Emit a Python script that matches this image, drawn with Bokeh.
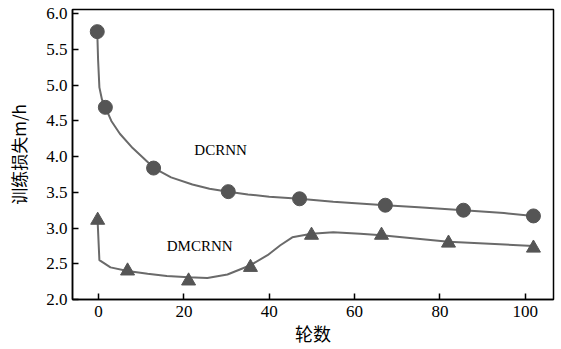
from bokeh.plotting import figure
from bokeh.models import FixedTicker, Range1d, Label
from bokeh.embed import file_html
from bokeh.resources import INLINE

# Marker values (epoch, training loss)
dcrnn_x = [-0.3, 1.6, 12.9, 30.4, 47.1, 67.2, 85.5, 101.9]
dcrnn_y = [5.75, 4.69, 3.84, 3.51, 3.41, 3.32, 3.25, 3.17]
dmcrnn_x = [-0.2, 6.8, 21.1, 35.6, 49.9, 66.3, 82.0, 101.9]
dmcrnn_y = [3.11, 2.40, 2.26, 2.45, 2.90, 2.90, 2.79, 2.72]

# Smooth fitted curves
dcrnn_curve_x = [-0.3, -0.1, 0.2, 0.8, 1.6, 3.0, 5.0, 8.0, 10.5, 13.0, 17.0, 22.0, 26.0,
                 30.4, 35.0, 40.0, 47.1, 55.0, 67.2, 75.0, 85.5, 95.0, 101.9]
dcrnn_curve_y = [5.75, 5.35, 4.97, 4.80, 4.69, 4.50, 4.32, 4.12, 3.98, 3.84, 3.71, 3.61, 3.55,
                 3.51, 3.47, 3.44, 3.41, 3.37, 3.32, 3.29, 3.25, 3.21, 3.17]
dmcrnn_curve_x = [-0.2, 0.2, 2.8, 6.8, 11.5, 16.0, 21.1, 25.5, 30.2, 35.6, 39.6, 42.6, 45.4,
                  49.9, 55.0, 61.3, 66.3, 82.0, 101.9]
dmcrnn_curve_y = [3.08, 2.55, 2.45, 2.40, 2.36, 2.33, 2.31, 2.30, 2.35, 2.48, 2.62, 2.76, 2.87,
                  2.92, 2.94, 2.92, 2.90, 2.81, 2.75]

x_ticks = [0, 20, 40, 60, 80, 100]
y_ticks = [2.0, 2.5, 3.0, 3.5, 4.0, 4.5, 5.0, 5.5, 6.0]

p = figure(width=561, height=349, output_backend="svg", toolbar_location=None,
           x_range=Range1d(-6.1, 106.6), y_range=Range1d(2.0, 6.06),
           min_border_left=72, min_border_right=8, min_border_top=9, min_border_bottom=50)
p.background_fill_color = "white"
p.border_fill_color = "white"
p.outline_line_color = "black"
p.outline_line_width = 1.5
p.xgrid.visible = False
p.ygrid.visible = False

serif = "Liberation Serif"
for ax in (p.xaxis[0], p.yaxis[0]):
    ax.major_tick_in = 6
    ax.major_tick_out = 0
    ax.minor_tick_line_color = None
    ax.axis_line_color = "black"
    ax.axis_line_width = 1.5
    ax.major_tick_line_color = "black"
    ax.major_tick_line_width = 1.5
    ax.major_label_text_font = serif
    ax.major_label_text_font_size = "17px"
    ax.major_label_text_color = "black"
    ax.axis_label_text_font = "Noto Sans CJK SC"
    ax.axis_label_text_font_style = "normal"
    ax.axis_label_text_color = "black"

p.xaxis[0].ticker = FixedTicker(ticks=x_ticks)
p.yaxis[0].ticker = FixedTicker(ticks=y_ticks)
p.yaxis[0].major_label_overrides = {t: f"{t:.1f}" for t in y_ticks}
p.xaxis[0].axis_label = "轮数"
p.yaxis[0].axis_label = "训练损失m/h"
p.xaxis[0].axis_label_text_font_size = "18px"
p.yaxis[0].axis_label_text_font_size = "17px"
p.xaxis[0].major_label_standoff = 6
p.yaxis[0].major_label_standoff = 5
p.yaxis[0].axis_label_standoff = 12
p.xaxis[0].axis_label_standoff = 0

line_color = "#6a6a6a"
p.line(dcrnn_curve_x, dcrnn_curve_y, line_color=line_color, line_width=2)
p.line(dmcrnn_curve_x, dmcrnn_curve_y, line_color=line_color, line_width=2)
p.scatter(dcrnn_x, dcrnn_y, marker="circle", size=14, fill_color="#555555",
          line_color="#555555")
p.scatter(dmcrnn_x, dmcrnn_y, marker="triangle", size=14, fill_color="#555555",
          line_color="#555555")

p.add_layout(Label(x=28.6, y=4.10, text="DCRNN", text_font="Liberation Serif",
                   text_font_size="15px", text_align="center", text_baseline="middle",
                   text_color="black"))
p.add_layout(Label(x=23.7, y=2.75, text="DMCRNN", text_font="Liberation Serif",
                   text_font_size="15px", text_align="center", text_baseline="middle",
                   text_color="black"))

open("out.html", "w").write(file_html(p, INLINE))
